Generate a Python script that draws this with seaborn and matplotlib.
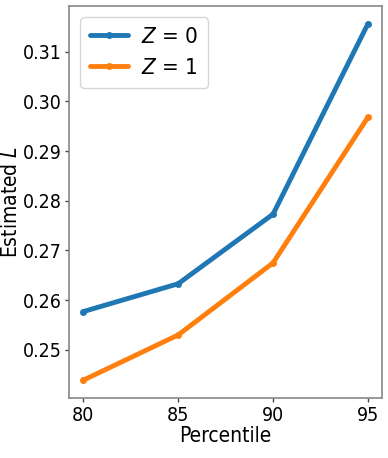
import numpy as np
import seaborn as sns
import pandas as pd
import matplotlib.pyplot as plt

# Values
percentile = [80, 85, 90, 95]
est_z0 = [0.2577, 0.2633, 0.2773, 0.3156]
est_z1 = [0.2439, 0.2530, 0.2675, 0.2968]

df = pd.DataFrame({
    'Percentile': percentile * 2,
    'L': est_z0 + est_z1,
    'Z': ['$Z$ = 0'] * 4 + ['$Z$ = 1'] * 4,
})

sns.set_style('white')
plt.rcParams['font.family'] = ['DejaVu Sans']
plt.rcParams['font.stretch'] = 'condensed'
plt.rcParams['text.color'] = 'black'
plt.rcParams['axes.labelcolor'] = 'black'

fig, ax = plt.subplots(figsize=(3.88, 4.58), dpi=100)
sns.lineplot(data=df, x='Percentile', y='L', hue='Z',
             palette=['#1f77b4', '#ff7f0e'], marker='o', markersize=5,
             markeredgewidth=0, linewidth=3.5, ax=ax)

ax.set_xticks(percentile)
ax.tick_params(axis='both', labelsize=14, left=True, bottom=True,
               length=3, width=1, pad=2.5, color='#444444',
               labelcolor='black')
ax.set_xlabel('Percentile', fontsize=15, labelpad=1)
ax.set_ylabel('Estimated $L$', fontsize=15, labelpad=1)
for s in ax.spines.values():
    s.set_color('#888888')
    s.set_linewidth(1.2)

ax.legend(title=None, loc='upper left', fontsize=16, handlelength=1.7,
          handletextpad=0.6, borderpad=0.45, labelspacing=0.5)

fig.subplots_adjust(left=0.178, right=0.985, top=0.987, bottom=0.131)
fig.savefig('out.png', dpi=100)
